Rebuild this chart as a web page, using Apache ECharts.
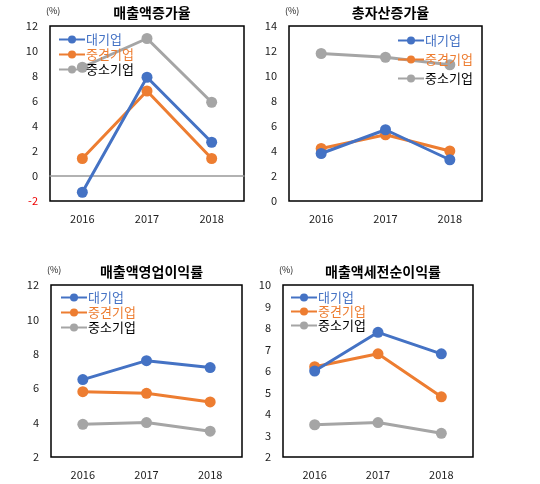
<!DOCTYPE html>
<html><head><meta charset="utf-8">
<script src="https://cdn.jsdelivr.net/npm/echarts@6/dist/echarts.min.js"></script>
<style>html,body{margin:0;background:#fff}#c{width:540px;height:484px}</style>
</head><body><div id="c"></div>
<script>
const categories = ['2016','2017','2018'];
const seriesNames = ['대기업','중견기업','중소기업'];
const titles = ['매출액증가율','총자산증가율','매출액영업이익률','매출액세전순이익률'];
const large = [[-1.3,7.9,2.7],[3.8,5.7,3.3],[6.5,7.6,7.2],[6.0,7.8,6.8]];
const mid   = [[1.4,6.8,1.4],[4.2,5.3,4.0],[5.8,5.7,5.2],[6.2,6.8,4.8]];
const small = [[8.7,11,5.9],[11.8,11.5,10.9],[3.9,4.0,3.5],[3.5,3.6,3.1]];
const yMin = [-2,0,2,2], yMax = [12,14,12,10], yInt = [2,2,2,1];

const colors = ['#4472C4','#ED7D31','#A5A5A5'];
const textColors = ['#4472C4','#ED7D31','#000'];
const font = '"Noto Sans CJK KR", sans-serif';
const grids = [
  {left:50,top:26,width:194,height:175},
  {left:289,top:26,width:193,height:175},
  {left:51,top:285,width:191,height:172},
  {left:283,top:285,width:190,height:172}
];
const legendPos = [
  {left:58,top:33,itemGap:2},
  {left:397,top:34,itemGap:6},
  {left:60,top:291,itemGap:2},
  {left:290,top:291,itemGap:1}
];
const option = {animation:false, grid:[], xAxis:[], yAxis:[], series:[], title:[], legend:[], graphic:[]};
grids.forEach((g,i)=>{
  option.grid.push(Object.assign({show:true,borderColor:'#000',borderWidth:1.5,backgroundColor:'transparent'},g));
  option.xAxis.push({type:'category',gridIndex:i,data:categories,boundaryGap:true,
    axisLine:{show:i===0,onZero:true,lineStyle:{color:'#999',width:1.5}},axisTick:{show:false},
    axisLabel:{color:'#222',fontSize:11,fontFamily:font,margin:12}});
  option.yAxis.push({type:'value',gridIndex:i,min:yMin[i],max:yMax[i],interval:yInt[i],splitLine:{show:false},
    axisLine:{show:false},axisTick:{show:false},
    axisLabel:{fontSize:11,fontFamily:font,margin:12,color:v=>v<0?'#e00':'#222'}});
  [large,mid,small].forEach((arr,k)=>{
    option.series.push({type:'line',name:seriesNames[k],xAxisIndex:i,yAxisIndex:i,data:arr[i],
      symbol:'circle',symbolSize:11,itemStyle:{color:colors[k]},lineStyle:{color:colors[k],width:3},z:3-k});
  });
  option.title.push({text:titles[i],left:g.left+g.width/2,textAlign:'center',top:g.top-25,
    textStyle:{fontSize:14,fontWeight:'bold',fontFamily:font,color:'#000'}});
  option.graphic.push({type:'text',left:g.left-4,top:g.top-20,style:{text:'(%)',fontSize:9,fill:'#222',fontFamily:font}});
  option.legend.push(Object.assign({orient:'vertical',itemWidth:26,itemHeight:10,padding:0,
    data:seriesNames.map((n,k)=>({name:n,textStyle:{color:textColors[k]}})),
    textStyle:{fontSize:13,fontFamily:font,padding:[0,0,0,-4]}},legendPos[i]));
});
const chart = echarts.init(document.getElementById('c'));
chart.setOption(option);
</script></body></html>
